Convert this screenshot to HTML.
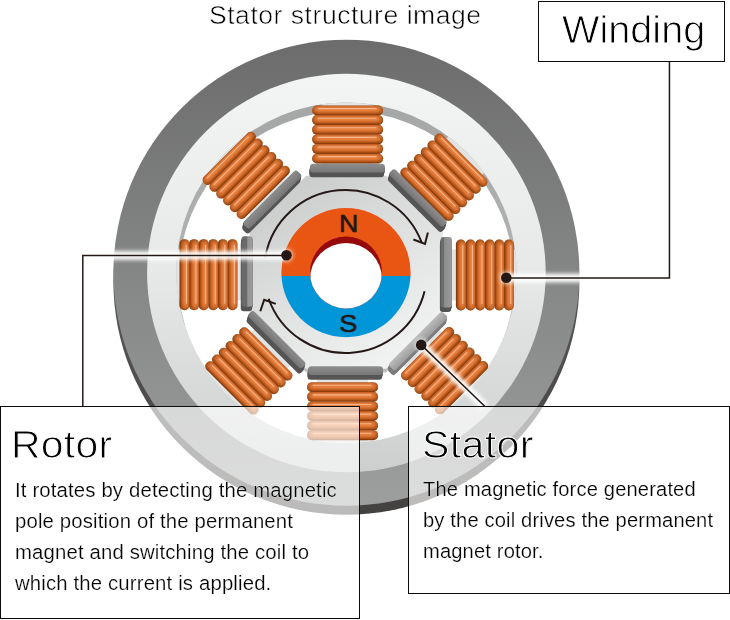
<!DOCTYPE html>
<html lang="en">
<head>
<meta charset="utf-8">
<title>Stator structure image</title>
<style>
html,body{margin:0;padding:0;background:#fff}
body{width:730px;height:620px;position:relative;overflow:hidden;font-family:"Liberation Sans",Arial,Helvetica,sans-serif;color:#111}
svg text{font-family:"Liberation Sans",Arial,Helvetica,sans-serif}
.title{position:absolute;left:208.5px;top:-.2px;font-size:25px;line-height:30px;letter-spacing:.5px;white-space:nowrap;margin:0;font-weight:normal;-webkit-text-stroke:.55px #fff;color:#000;transform:scaleX(1.0607);transform-origin:0 0}
.box{position:absolute;box-sizing:border-box;border:1.2px solid #0b0b0b;background:rgba(255,255,255,.64)}
.box h2{margin:0;font-weight:normal;white-space:nowrap;position:absolute;-webkit-text-stroke:.9px #fff;color:#000;transform-origin:0 0}
.box p{margin:0;position:absolute;font-size:19.5px;line-height:31px;letter-spacing:.15px;white-space:nowrap;-webkit-text-stroke:.2px #fff;color:#000;transform-origin:0 0}
#winding{left:537.6px;top:.5px;width:187.8px;height:61.5px}
#winding h2{font-size:38.5px;line-height:44px;letter-spacing:0;left:23px;top:6px;transform:scaleX(1.03)}
#rotor{left:.2px;top:405.6px;width:359.8px;height:213.6px}
#rotor h2{font-size:38px;line-height:44px;letter-spacing:.3px;left:10px;top:16.8px;transform:scaleX(1.075)}
#rotor p{left:13.5px;top:68.4px;transform:scaleX(1.042)}
#stator{left:408px;top:405.7px;width:321.7px;height:187.9px}
#stator h2{font-size:38px;line-height:44px;letter-spacing:.3px;left:13.2px;top:16.4px;transform:scaleX(1.082)}
#stator p{left:14.4px;top:67.3px;transform:scaleX(1.032)}
</style>
</head>
<body>
<svg width="730" height="620" viewBox="0 0 730 620" style="position:absolute;left:0;top:0">
<defs>
<linearGradient id="gDark" x1="0" y1="0" x2="0" y2="1"><stop offset="0" stop-color="#6c6c6c"/><stop offset="1" stop-color="#9d9f9f"/></linearGradient>
<linearGradient id="gSide" x1="0" y1="0" x2="0" y2="1"><stop offset="0" stop-color="#6a6a6a"/><stop offset="1" stop-color="#444241"/></linearGradient>
<linearGradient id="gLight" x1="0" y1="0" x2="0" y2="1"><stop offset="0" stop-color="#f3f4f4"/><stop offset=".5" stop-color="#e7e8e8"/><stop offset="1" stop-color="#cdcfcf"/></linearGradient>
<linearGradient id="gWall" x1="0" y1="0" x2="0" y2="1"><stop offset="0" stop-color="#a5a7a7"/><stop offset=".5" stop-color="#b2b4b4"/><stop offset="1" stop-color="#dcdddd"/></linearGradient>
<linearGradient id="gOct" x1=".2" y1="0" x2=".8" y2="1"><stop offset="0" stop-color="#c9caca"/><stop offset=".55" stop-color="#e2e3e3"/><stop offset="1" stop-color="#f3f4f4"/></linearGradient>
<linearGradient id="gCoil" x1="0" y1="0" x2="0" y2="1">
<stop offset="0" stop-color="#9c4810"/><stop offset=".07" stop-color="#c8642a"/><stop offset=".17" stop-color="#e07838"/><stop offset=".45" stop-color="#e98140"/><stop offset=".62" stop-color="#d87030"/><stop offset=".8" stop-color="#b4561a"/><stop offset=".93" stop-color="#8a3c0a"/><stop offset="1" stop-color="#7c3408"/></linearGradient>
<linearGradient id="gEnds" x1="0" y1="0" x2="1" y2="0"><stop offset="0" stop-color="#7a3606" stop-opacity=".65"/><stop offset=".05" stop-color="#7a3606" stop-opacity=".18"/><stop offset=".1" stop-color="#7a3606" stop-opacity="0"/><stop offset=".9" stop-color="#7a3606" stop-opacity="0"/><stop offset=".95" stop-color="#7a3606" stop-opacity=".18"/><stop offset="1" stop-color="#7a3606" stop-opacity=".65"/></linearGradient>
<linearGradient id="gPlate" x1="0" y1="0" x2="0" y2="1"><stop offset="0" stop-color="#8e8e8e"/><stop offset="1" stop-color="#767676"/></linearGradient>
<linearGradient id="gPlateSE" x1="0" y1="0" x2="0" y2="1"><stop offset="0" stop-color="#bcbcbc"/><stop offset="1" stop-color="#9c9c9c"/></linearGradient>
<linearGradient id="gPlateE" x1="0" y1="1" x2="0" y2="0"><stop offset="0" stop-color="#6c6c6c"/><stop offset=".25" stop-color="#6c6c6c"/><stop offset=".35" stop-color="#8e8e8e"/><stop offset="1" stop-color="#9a9a9a"/></linearGradient>
<linearGradient id="gPlateW" x1="0" y1="1" x2="0" y2="0"><stop offset="0" stop-color="#6a6a6a"/><stop offset=".45" stop-color="#6a6a6a"/><stop offset=".55" stop-color="#949494"/><stop offset="1" stop-color="#9c9c9c"/></linearGradient>
<clipPath id="cCav"><circle cx="346.4" cy="272.7" r="170.2"/></clipPath>
<clipPath id="cHole"><circle cx="346" cy="272.5" r="36"/></clipPath>
<clipPath id="cN"><rect x="270" y="200" width="160" height="75.9"/></clipPath>
<clipPath id="cS"><rect x="270" y="275.9" width="160" height="80"/></clipPath>
<filter id="glow" x="-20%" y="-20%" width="140%" height="140%"><feGaussianBlur stdDeviation="2.5"/></filter>
<g id="coil">
<rect x="-35.5" y="-28.8" width="71" height="10" rx="4.8" fill="url(#gCoil)"/>
<rect x="-35.5" y="-28.8" width="71" height="10" rx="4.8" fill="url(#gEnds)"/>
<rect x="-35.5" y="-19.2" width="71" height="10" rx="4.8" fill="url(#gCoil)"/>
<rect x="-35.5" y="-19.2" width="71" height="10" rx="4.8" fill="url(#gEnds)"/>
<rect x="-35.5" y="-9.6" width="71" height="10" rx="4.8" fill="url(#gCoil)"/>
<rect x="-35.5" y="-9.6" width="71" height="10" rx="4.8" fill="url(#gEnds)"/>
<rect x="-35.5" y="0" width="71" height="10" rx="4.8" fill="url(#gCoil)"/>
<rect x="-35.5" y="0" width="71" height="10" rx="4.8" fill="url(#gEnds)"/>
<rect x="-35.5" y="9.6" width="71" height="10" rx="4.8" fill="url(#gCoil)"/>
<rect x="-35.5" y="9.6" width="71" height="10" rx="4.8" fill="url(#gEnds)"/>
<rect x="-35.5" y="19.2" width="71" height="10" rx="4.8" fill="url(#gCoil)"/>
<rect x="-35.5" y="19.2" width="71" height="10" rx="4.8" fill="url(#gEnds)"/>
<line x1="-29.5" x2="28.5" y1="-25.7" y2="-25.7" stroke="#f8c09a" stroke-width="1.1" stroke-linecap="round" opacity=".85"/>
<line x1="-29.5" x2="28.5" y1="-16.1" y2="-16.1" stroke="#f8c09a" stroke-width="1.1" stroke-linecap="round" opacity=".85"/>
<line x1="-29.5" x2="28.5" y1="-6.5" y2="-6.5" stroke="#f8c09a" stroke-width="1.1" stroke-linecap="round" opacity=".85"/>
<line x1="-29.5" x2="28.5" y1="3.1" y2="3.1" stroke="#f8c09a" stroke-width="1.1" stroke-linecap="round" opacity=".85"/>
<line x1="-29.5" x2="28.5" y1="12.7" y2="12.7" stroke="#f8c09a" stroke-width="1.1" stroke-linecap="round" opacity=".85"/>
<line x1="-29.5" x2="28.5" y1="22.3" y2="22.3" stroke="#f8c09a" stroke-width="1.1" stroke-linecap="round" opacity=".85"/>
</g>
<g id="plate"><rect x="-39.2" y="-3.2" width="75.4" height="9" rx="3" fill="#5e5e5e" transform="translate(0 0)"/></g>
</defs>
<circle cx="346.4" cy="281.7" r="233" fill="url(#gSide)"/>
<circle cx="346.4" cy="272.7" r="233" fill="url(#gDark)"/>
<circle cx="346.4" cy="273" r="199.3" fill="url(#gLight)"/>
<circle cx="346.4" cy="272.7" r="170.2" fill="url(#gWall)"/>
<g clip-path="url(#cCav)">
<circle cx="346.4" cy="279.1" r="168" fill="#fff"/>
<rect x="-46" y="-25.5" width="92" height="51" fill="#e2e3e3" transform="translate(347.6 134.3) rotate(-90)"/>
<rect x="-46" y="-25.5" width="92" height="51" fill="#e2e3e3" transform="translate(444.1 177.1) rotate(-45)"/>
<rect x="-46" y="-25.5" width="92" height="51" fill="#e2e3e3" transform="translate(485.1 275) rotate(0)"/>
<rect x="-46" y="-25.5" width="92" height="51" fill="#e2e3e3" transform="translate(444.4 370.6) rotate(45)"/>
<rect x="-46" y="-25.5" width="92" height="51" fill="#e2e3e3" transform="translate(342.6 411) rotate(90)"/>
<rect x="-46" y="-25.5" width="92" height="51" fill="#e2e3e3" transform="translate(249 370.8) rotate(135)"/>
<rect x="-46" y="-25.5" width="92" height="51" fill="#e2e3e3" transform="translate(208.7 274.7) rotate(180)"/>
<rect x="-46" y="-25.5" width="92" height="51" fill="#e2e3e3" transform="translate(246.1 175.2) rotate(-135)"/>
</g>
<polygon points="442.2,316.26 385.96,372.5 306.44,372.5 250.2,316.26 250.2,236.74 306.44,180.5 385.96,180.5 442.2,236.74" fill="#bfc1c1"/>
<polygon points="442.7,312.17 386.17,368.7 306.23,368.7 249.7,312.17 249.7,232.23 306.23,175.7 386.17,175.7 442.7,232.23" fill="url(#gOct)"/>
<g transform="translate(347.5 168.2)"><rect x="-37.3" y="-4.4" width="74.6" height="8.8" rx="3" fill="#555" transform="translate(-0.8 4.6) rotate(0)"/><rect x="-37.3" y="-4.4" width="74.6" height="8.8" rx="3" fill="#555" transform="translate(-0.64 3.68) rotate(0)"/><rect x="-37.3" y="-4.4" width="74.6" height="8.8" rx="3" fill="#555" transform="translate(-0.48 2.76) rotate(0)"/><rect x="-37.3" y="-4.4" width="74.6" height="8.8" rx="3" fill="#555" transform="translate(-0.32 1.84) rotate(0)"/><rect x="-37.3" y="-4.4" width="74.6" height="8.8" rx="3" fill="#555" transform="translate(-0.16 0.92) rotate(0)"/><rect x="-37.3" y="-4.4" width="74.6" height="8.8" rx="3" fill="url(#gPlate)" transform="rotate(0)"/></g>
<g transform="translate(418.1 197.9)"><rect x="-38" y="-4" width="76" height="8" rx="3" fill="#555" transform="translate(-1.6 5.4) rotate(45)"/><rect x="-38" y="-4" width="76" height="8" rx="3" fill="#555" transform="translate(-1.28 4.32) rotate(45)"/><rect x="-38" y="-4" width="76" height="8" rx="3" fill="#555" transform="translate(-0.96 3.24) rotate(45)"/><rect x="-38" y="-4" width="76" height="8" rx="3" fill="#555" transform="translate(-0.64 2.16) rotate(45)"/><rect x="-38" y="-4" width="76" height="8" rx="3" fill="#555" transform="translate(-0.32 1.08) rotate(45)"/><rect x="-38" y="-4" width="76" height="8" rx="3" fill="url(#gPlate)" transform="rotate(45)"/></g>
<g transform="translate(446.3 272.3)"><rect x="-35.2" y="-5.6" width="70.4" height="11.2" rx="3" fill="#555" transform="translate(-0.8 4.6) rotate(90)"/><rect x="-35.2" y="-5.6" width="70.4" height="11.2" rx="3" fill="#555" transform="translate(-0.64 3.68) rotate(90)"/><rect x="-35.2" y="-5.6" width="70.4" height="11.2" rx="3" fill="#555" transform="translate(-0.48 2.76) rotate(90)"/><rect x="-35.2" y="-5.6" width="70.4" height="11.2" rx="3" fill="#555" transform="translate(-0.32 1.84) rotate(90)"/><rect x="-35.2" y="-5.6" width="70.4" height="11.2" rx="3" fill="#555" transform="translate(-0.16 0.92) rotate(90)"/><rect x="-35.2" y="-5.6" width="70.4" height="11.2" rx="3" fill="url(#gPlateE)" transform="rotate(90)"/></g>
<g transform="translate(418.1 341.1)"><rect x="-38" y="-4.6" width="76" height="9.2" rx="3" fill="#7c7c7c" transform="translate(-1 5) rotate(-45)"/><rect x="-38" y="-4.6" width="76" height="9.2" rx="3" fill="#7c7c7c" transform="translate(-0.8 4) rotate(-45)"/><rect x="-38" y="-4.6" width="76" height="9.2" rx="3" fill="#7c7c7c" transform="translate(-0.6 3) rotate(-45)"/><rect x="-38" y="-4.6" width="76" height="9.2" rx="3" fill="#7c7c7c" transform="translate(-0.4 2) rotate(-45)"/><rect x="-38" y="-4.6" width="76" height="9.2" rx="3" fill="#7c7c7c" transform="translate(-0.2 1) rotate(-45)"/><rect x="-38" y="-4.6" width="76" height="9.2" rx="3" fill="url(#gPlateSE)" transform="rotate(-45)"/></g>
<g transform="translate(345.6 370.7)"><rect x="-37.3" y="-4.4" width="74.6" height="8.8" rx="3" fill="#555" transform="translate(-0.8 4.6) rotate(0)"/><rect x="-37.3" y="-4.4" width="74.6" height="8.8" rx="3" fill="#555" transform="translate(-0.64 3.68) rotate(0)"/><rect x="-37.3" y="-4.4" width="74.6" height="8.8" rx="3" fill="#555" transform="translate(-0.48 2.76) rotate(0)"/><rect x="-37.3" y="-4.4" width="74.6" height="8.8" rx="3" fill="#555" transform="translate(-0.32 1.84) rotate(0)"/><rect x="-37.3" y="-4.4" width="74.6" height="8.8" rx="3" fill="#555" transform="translate(-0.16 0.92) rotate(0)"/><rect x="-37.3" y="-4.4" width="74.6" height="8.8" rx="3" fill="url(#gPlate)" transform="rotate(0)"/></g>
<g transform="translate(276.8 339.6)"><rect x="-38" y="-4" width="76" height="8" rx="3" fill="#555" transform="translate(-1.6 5.4) rotate(45)"/><rect x="-38" y="-4" width="76" height="8" rx="3" fill="#555" transform="translate(-1.28 4.32) rotate(45)"/><rect x="-38" y="-4" width="76" height="8" rx="3" fill="#555" transform="translate(-0.96 3.24) rotate(45)"/><rect x="-38" y="-4" width="76" height="8" rx="3" fill="#555" transform="translate(-0.64 2.16) rotate(45)"/><rect x="-38" y="-4" width="76" height="8" rx="3" fill="#555" transform="translate(-0.32 1.08) rotate(45)"/><rect x="-38" y="-4" width="76" height="8" rx="3" fill="url(#gPlate)" transform="rotate(45)"/></g>
<g transform="translate(247.2 271.5)"><rect x="-35.2" y="-5.6" width="70.4" height="11.2" rx="3" fill="#555" transform="translate(-0.8 4.6) rotate(90)"/><rect x="-35.2" y="-5.6" width="70.4" height="11.2" rx="3" fill="#555" transform="translate(-0.64 3.68) rotate(90)"/><rect x="-35.2" y="-5.6" width="70.4" height="11.2" rx="3" fill="#555" transform="translate(-0.48 2.76) rotate(90)"/><rect x="-35.2" y="-5.6" width="70.4" height="11.2" rx="3" fill="#555" transform="translate(-0.32 1.84) rotate(90)"/><rect x="-35.2" y="-5.6" width="70.4" height="11.2" rx="3" fill="#555" transform="translate(-0.16 0.92) rotate(90)"/><rect x="-35.2" y="-5.6" width="70.4" height="11.2" rx="3" fill="url(#gPlateW)" transform="rotate(90)"/></g>
<g transform="translate(272.3 199.5)"><rect x="-38" y="-4.6" width="76" height="9.2" rx="3" fill="#555" transform="translate(-1 5) rotate(-45)"/><rect x="-38" y="-4.6" width="76" height="9.2" rx="3" fill="#555" transform="translate(-0.8 4) rotate(-45)"/><rect x="-38" y="-4.6" width="76" height="9.2" rx="3" fill="#555" transform="translate(-0.6 3) rotate(-45)"/><rect x="-38" y="-4.6" width="76" height="9.2" rx="3" fill="#555" transform="translate(-0.4 2) rotate(-45)"/><rect x="-38" y="-4.6" width="76" height="9.2" rx="3" fill="#555" transform="translate(-0.2 1) rotate(-45)"/><rect x="-38" y="-4.6" width="76" height="9.2" rx="3" fill="url(#gPlate)" transform="rotate(-45)"/></g>
<use href="#coil" transform="translate(347.6 134.3) rotate(0)"/>
<use href="#coil" transform="translate(444.1 177.1) rotate(45)"/>
<use href="#coil" transform="translate(485.1 275) rotate(90)"/>
<use href="#coil" transform="translate(444.4 370.6) rotate(-45)"/>
<use href="#coil" transform="translate(342.6 411) rotate(0)"/>
<use href="#coil" transform="translate(249 370.8) rotate(45)"/>
<use href="#coil" transform="translate(208.7 274.7) rotate(90)"/>
<use href="#coil" transform="translate(246.1 175.2) rotate(-45)"/>
<circle cx="346" cy="272.6" r="64.6" fill="#e95513" clip-path="url(#cN)"/>
<circle cx="346" cy="272.6" r="64.6" fill="#0096d8" clip-path="url(#cS)"/>
<circle cx="346" cy="272.5" r="36" fill="#96090c"/>
<circle cx="346" cy="279" r="36" fill="#fff" clip-path="url(#cHole)"/>
<text transform="translate(348.7 231.9) scale(1.1 1)" font-size="24.3" text-anchor="middle" fill="#231815" stroke="#231815" stroke-width=".6">N</text>
<text transform="translate(348.4 331.7) scale(1.12 1.02)" font-size="24.3" text-anchor="middle" fill="#231815" stroke="#231815" stroke-width=".6">S</text>
<g fill="none" stroke="#231815" stroke-width="2" stroke-linecap="butt">
<path d="M265.24 257.35A81.5 81.5 0 0 1 421.84 242.96"/>
<path d="M424.58 291.22A81.5 81.5 0 0 1 268.67 298.71"/>
<path d="M413.4 239.5L425 243.9L427.9 232.5"/>
<path d="M275.8 303.9L264.2 299.7L260.3 311.3"/>
</g>
<g filter="url(#glow)" fill="#fff" stroke="#fff" stroke-width="6.5" stroke-linejoin="miter" fill-opacity="1">
<path d="M286.5 255.5H82.8V406" fill="none"/><circle cx="286.5" cy="255.2" r="4.6" stroke-width="2"/>
<path d="M506.3 278H669.45V61.5" fill="none"/><circle cx="506.3" cy="277.8" r="4.6" stroke-width="2"/>
<path d="M421.2 344.9L484.7 406.3" fill="none"/><circle cx="421.2" cy="344.9" r="4.6" stroke-width="2"/>
</g>
<g filter="url(#glow)" fill="none" stroke="#fff" stroke-width="5">
<path d="M286.5 255.5H82.8V406"/>
<path d="M506.3 278H669.45V61.5"/>
<path d="M421.2 344.9L484.7 406.3"/>
</g>
<g fill="none" stroke="#231815" stroke-width="1.5">
<path d="M286.5 255.5H82.8V406"/>
<path d="M506.3 278H669.45V61.5"/>
<path d="M421.2 344.9L484.7 406.3"/>
</g>
<circle cx="286.5" cy="255.2" r="5.3" fill="#231815"/>
<circle cx="506.3" cy="277.8" r="5.3" fill="#231815"/>
<circle cx="421.2" cy="344.9" r="5.3" fill="#231815"/>
</svg>
<h1 class="title">Stator structure image</h1>
<div class="box" id="winding"><h2>Winding</h2></div>
<div class="box" id="rotor"><h2>Rotor</h2><p>It rotates by detecting the magnetic<br>pole position of the permanent<br>magnet and switching the coil to<br>which the current is applied.</p></div>
<div class="box" id="stator"><h2>Stator</h2><p>The magnetic force generated<br>by the coil drives the permanent<br>magnet rotor.</p></div>
</body>
</html>
